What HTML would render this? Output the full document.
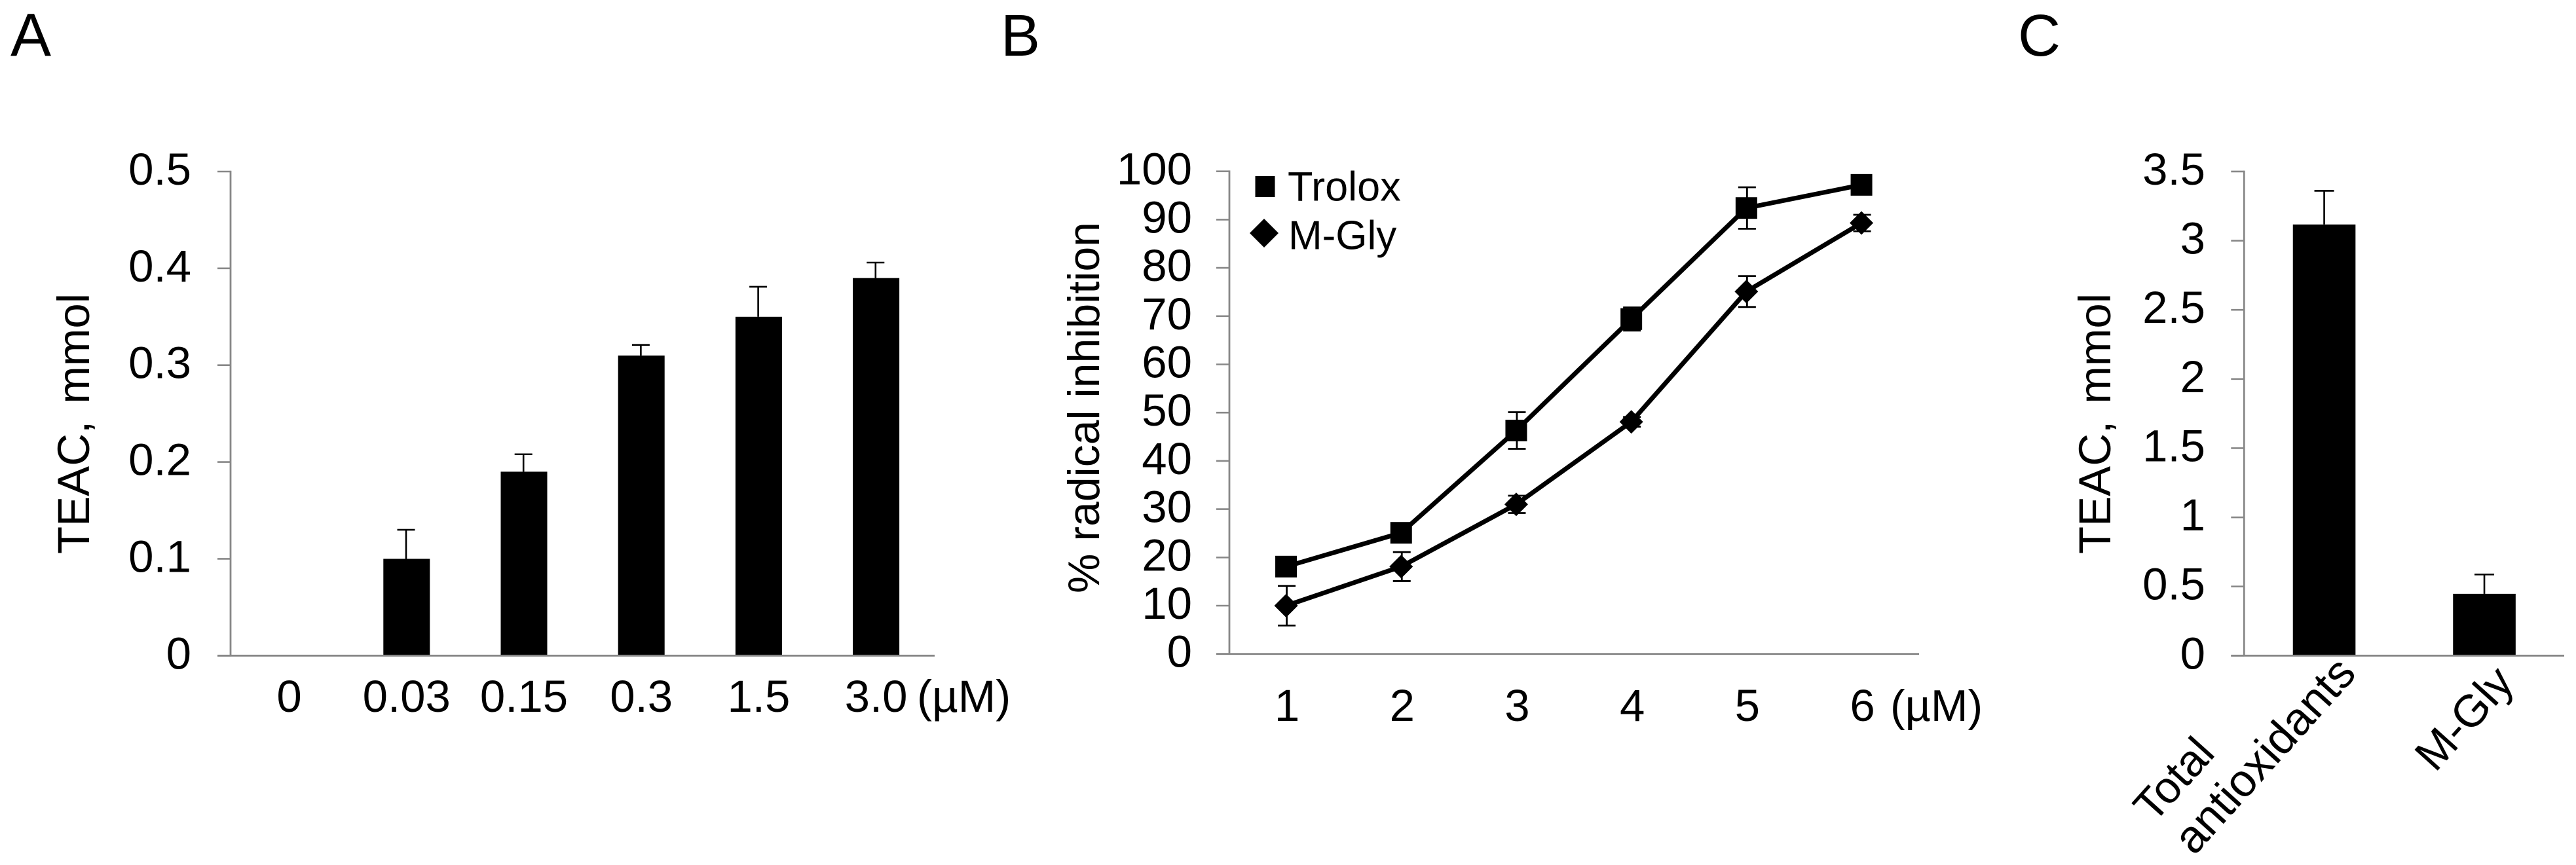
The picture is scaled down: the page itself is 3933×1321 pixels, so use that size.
<!DOCTYPE html>
<html lang="en">
<head>
<meta charset="utf-8">
<title>TEAC and radical inhibition charts</title>
<style>
html,body{margin:0;padding:0;background:#fff;}
svg{display:block;}
text{font-family:"Liberation Sans",Arial,sans-serif;fill:#000;}
</style>
</head>
<body>
<svg id="figure" xmlns="http://www.w3.org/2000/svg" width="3933" height="1321" viewBox="0 0 3933 1321">
  <rect x="0" y="0" width="3933" height="1321" fill="#ffffff"/>
  <text x="16" y="85" font-size="93">A</text>
  <text x="1528" y="85" font-size="90">B</text>
  <text x="3081" y="85" font-size="90">C</text>
  <text transform="translate(136,846) rotate(-90)" font-size="69" word-spacing="7">TEAC, mmol</text>
  <text transform="translate(1678,906) rotate(-90)" font-size="68">% radical inhibition</text>
  <text transform="translate(3222,846) rotate(-90)" font-size="69" word-spacing="7">TEAC, mmol</text>
  <g id="panel-a"></g>
  <g id="panel-b"></g>
  <g id="panel-c"></g>
  <g>
    <rect x="1916.5" y="269" width="30" height="32" fill="#000"/>
    <text x="1966" y="306.5" font-size="63">Trolox</text>
    <polygon points="1930,334 1952,356 1930,378 1908,356" fill="#000"/>
    <text x="1967" y="380.5" font-size="62">M-Gly</text>
  </g>
  <text transform="translate(3288,1259) rotate(-48)" font-size="68">Total</text>
  <text transform="translate(3350,1308) rotate(-48)" font-size="70">antioxidants</text>
  <text transform="translate(3718,1181) rotate(-48)" font-size="69">M-Gly</text>
</svg>
<script>
// Panel A data
const aCategories = ['0', '0.03', '0.15', '0.3', '1.5', '3.0'];
const aValues = [0, 0.10, 0.19, 0.31, 0.35, 0.39];
const aErrors = [0, 0.03, 0.018, 0.011, 0.031, 0.016];
const aTicks = [0, 0.1, 0.2, 0.3, 0.4, 0.5];
const aTickLabels = ['0', '0.1', '0.2', '0.3', '0.4', '0.5'];

// Panel B data
const bCategories = ['1', '2', '3', '4', '5', '6'];
const troloxValues = [18.1, 25.1, 46.3, 69.4, 92.4, 97.2];
const troloxErrors = [0.8, 0.8, 3.8, 2.4, 4.3, 1.0];
const mGlyValues = [10.0, 18.1, 31.0, 48.1, 75.1, 89.3];
const mGlyErrors = [4.1, 3.0, 1.8, 1.0, 3.2, 1.7];
const bTicks = [0, 10, 20, 30, 40, 50, 60, 70, 80, 90, 100];
const bTickLabels = ['0', '10', '20', '30', '40', '50', '60', '70', '80', '90', '100'];

// Panel C data
const cValues = [3.117, 0.447];
const cErrors = [0.243, 0.14];
const cTicks = [0, 0.5, 1, 1.5, 2, 2.5, 3, 3.5];
const cTickLabels = ['0', '0.5', '1', '1.5', '2', '2.5', '3', '3.5'];

const SVGNS = 'http://www.w3.org/2000/svg';
const AXIS = '#888888';

function make(parent, tag, attrs, content) {
  const el = document.createElementNS(SVGNS, tag);
  for (const k in attrs) el.setAttribute(k, attrs[k]);
  if (content !== undefined) el.textContent = content;
  parent.appendChild(el);
  return el;
}

// Axis functions
const yA = v => 1001.3 - (v / 0.5) * 739.3;
const xA = i => 352 + 179.2 * (i + 0.5);
const yB = v => 998.7 - (v / 100) * 737;
const xB = i => 1875.7 + 175.7 * (i + 0.5);
const yC = v => 1001.3 - (v / 3.5) * 739.4;
const xC = i => 3426.3 + 244.5 * (i + 0.5);

function drawAxes(g, axisX, axisRight, top, bottom, ticks, labels, yFn, labelRight, fontSize) {
  ticks.forEach((t, i) => {
    const tick = make(g, 'line', {x1: axisX - 20, x2: axisX, y1: yFn(t), y2: yFn(t), stroke: AXIS, 'stroke-width': 2.6});
    
    
    const lab = make(g, 'text', {x: labelRight, y: yFn(t) + 20, 'text-anchor': 'end', 'font-size': fontSize}, labels[i]);
    
    
  });
  const yAxis = make(g, 'line', {x1: axisX, x2: axisX, y1: top - 1.3, y2: bottom, stroke: AXIS, 'stroke-width': 2.8});
  
  
  const xAxis = make(g, 'line', {x1: axisX - 20, x2: axisRight, y1: bottom, y2: bottom, stroke: AXIS, 'stroke-width': 2.8});
  
  
}

function drawError(g, cx, yLow, yHigh, cap) {
  const stem = make(g, 'line', {x1: cx, x2: cx, y1: yLow, y2: yHigh, stroke: '#000', 'stroke-width': 2.6});
  
  
  const top = make(g, 'line', {x1: cx - cap / 2, x2: cx + cap / 2, y1: yHigh, y2: yHigh, stroke: '#000', 'stroke-width': 2.6});
  
  
}

function drawBars(g, values, errors, xFn, yFn, width, cap, stemOffset) {
  values.forEach((v, i) => {
    if (errors[i] > 0) drawError(g, xFn(i) + stemOffset, yFn(v), yFn(v + errors[i]), cap);
    const bar = make(g, 'rect', {x: xFn(i) - width / 2, y: yFn(v), width: width, height: yFn(0) - yFn(v), fill: '#000'});
    
    
  });
}

// Panel A
const gA = document.getElementById('panel-a');
drawBars(gA, aValues, aErrors, xA, yA, 71, 27, -0.8);
drawAxes(gA, 352, 1427, yA(0.5), yA(0), aTicks, aTickLabels, yA, 292, 69);
aCategories.forEach((c, i) => {
  const lab = make(gA, 'text', {x: xA(i), y: 1087, 'text-anchor': 'middle', 'font-size': 69}, c);
  
  
});
const unitA = make(gA, 'text', {x: 1400, y: 1087, 'font-size': 69}, '(µM)');



// Panel B
const gB = document.getElementById('panel-b');
drawAxes(gB, 1877, 2930, yB(100), yB(0), bTicks, bTickLabels, yB, 1820, 69);
bCategories.forEach((c, i) => {
  const lab = make(gB, 'text', {x: xB(i) + 1.5, y: 1101, 'text-anchor': 'middle', 'font-size': 69}, c);
  
  
});
const unitB = make(gB, 'text', {x: 2886, y: 1101, 'font-size': 68}, '(µM)');



function drawSeries(g, values, errors, name, marker) {
  const pts = values.map((v, i) => xB(i) + ',' + yB(v)).join(' ');
  const line = make(g, 'polyline', {points: pts, fill: 'none', stroke: '#000', 'stroke-width': 7, 'stroke-linejoin': 'round'});
  
  
  values.forEach((v, i) => {
    const cx = xB(i), cy = yB(v);
    const s = make(g, 'line', {x1: cx + 1, x2: cx + 1, y1: yB(v - errors[i]), y2: yB(v + errors[i]), stroke: '#000', 'stroke-width': 2.8});
    
    
    [v - errors[i], v + errors[i]].forEach(e => {
      const c = make(g, 'line', {x1: cx + 1 - 13.5, x2: cx + 1 + 13.5, y1: yB(e), y2: yB(e), stroke: '#000', 'stroke-width': 2.8});
      
      
    });
    let m;
    if (marker === 'square') {
      m = make(g, 'rect', {x: cx - 16.5, y: cy - 16.5, width: 33, height: 33, fill: '#000'});
    } else {
      m = make(g, 'polygon', {points: [cx, cy - 18, cx + 18, cy, cx, cy + 18, cx - 18, cy].join(' '), fill: '#000'});
    }
    
    
  });
}
drawSeries(gB, mGlyValues, mGlyErrors, 'm-gly', 'diamond');
drawSeries(gB, troloxValues, troloxErrors, 'trolox', 'square');

// Panel C
const gC = document.getElementById('panel-c');
drawBars(gC, cValues, cErrors, xC, yC, 95.6, 30, 0);
drawAxes(gC, 3426.3, 3915, yC(3.5), yC(0), cTicks, cTickLabels, yC, 3367, 69);
</script>
</body>
</html>
